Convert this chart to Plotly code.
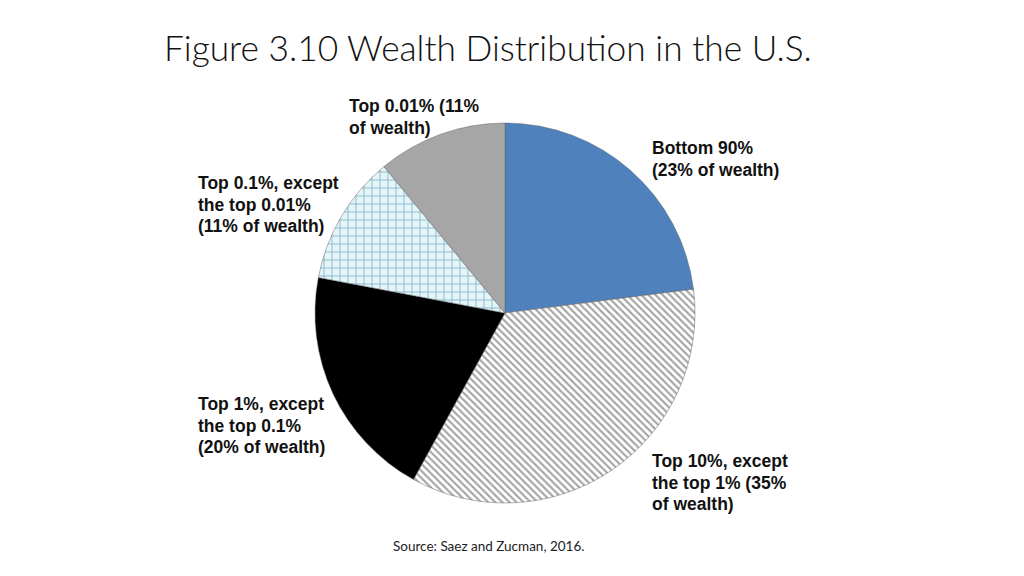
import plotly.graph_objects as go

# Wealth shares (percent of total wealth), clockwise from 12 o'clock
groups = ["Bottom 90%", "Top 10%, except the top 1%", "Top 1%, except the top 0.1%",
          "Top 0.1%, except the top 0.01%", "Top 0.01%"]
shares = [23, 35, 20, 11, 11]
label_lines = [
    ["Bottom 90%", "(23% of wealth)"],
    ["Top 10%, except", "the top 1% (35%", "of wealth)"],
    ["Top 1%, except", "the top 0.1%", "(20% of wealth)"],
    ["Top 0.1%, except", "the top 0.01%", "(11% of wealth)"],
    ["Top 0.01% (11%", "of wealth)"],
]
# left edge and centre of first line, in reference pixels
label_pos = [(650, 148), (650, 461), (196, 404), (196, 183), (347, 106)]

fills = ["#4F81BD", "white", "black", "#E4F5FA", "#A6A6A6"]
shapes = ["", "\\", "", "+", ""]
pattern_fg = ["#4F81BD", "#4A4A4A", "black", "#23708C", "#A6A6A6"]

W, H = 1024, 576
OFF = 8  # page body margin
cx, cy, r = 505, 313, 190
line_step = 21.6


def px(x):
    return (x - OFF) / W


def py(y):
    return 1 - (y - OFF) / H


fig = go.Figure()

fig.add_trace(go.Pie(
    labels=groups,
    values=shares,
    sort=False,
    direction="clockwise",
    rotation=0,
    textinfo="none",
    hoverinfo="label+percent",
    showlegend=False,
    marker=dict(
        colors=fills,
        line=dict(color="#666666", width=0.5),
        pattern=dict(shape=shapes, fgcolor=pattern_fg, bgcolor=fills,
                     size=[6, 5, 6, 8, 6], solidity=[0.3, 0.42, 0.3, 0.2, 0.3],
                     fillmode="overlay"),
    ),
    domain=dict(x=[px(cx - r), px(cx + r)], y=[py(cy + r), py(cy - r)]),
))

for lines, (x, y) in zip(label_lines, label_pos):
    for i, line in enumerate(lines):
        fig.add_annotation(
            text=line, x=px(x), y=py(y + i * line_step), xref="paper", yref="paper",
            xanchor="left", yanchor="middle", align="left", showarrow=False,
            font=dict(family="Liberation Sans", size=17.5, color="#111111", weight="bold"),
        )

fig.add_annotation(
    text="Figure 3.10 Wealth Distribution in the U.S.",
    x=px(488), y=py(47), xref="paper", yref="paper",
    xanchor="center", yanchor="middle", showarrow=False,
    font=dict(family="Lato", size=35.3, color="#111111", weight=300),
)

fig.add_annotation(
    text="Source: Saez and Zucman, 2016.",
    x=px(488), y=py(546), xref="paper", yref="paper",
    xanchor="center", yanchor="middle", showarrow=False,
    font=dict(family="Lato", size=13.5, color="#222222"),
)

fig.update_layout(
    width=W, height=H,
    margin=dict(l=0, r=0, t=0, b=0),
    paper_bgcolor="white",
    plot_bgcolor="white",
)

fig.write_html("out.html")
